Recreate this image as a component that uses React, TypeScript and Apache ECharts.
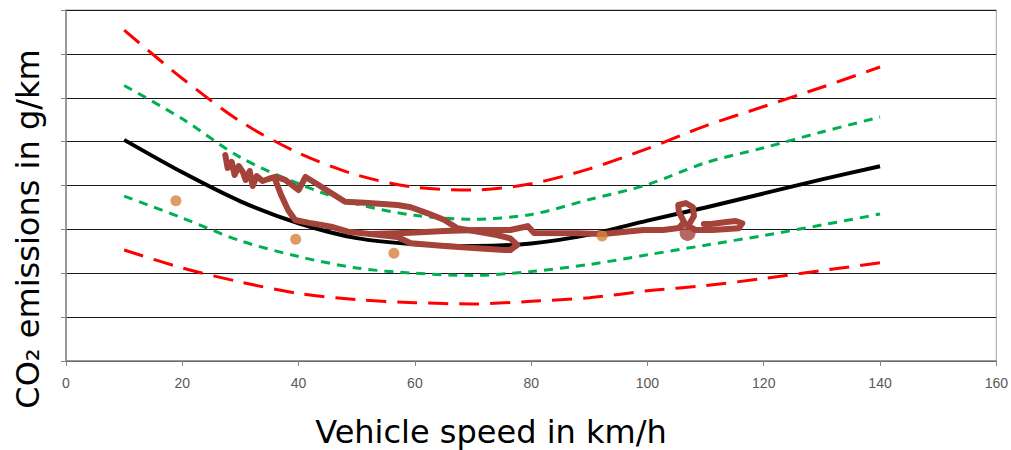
import React, { useEffect, useRef } from "react";
import * as echarts from "echarts";

// Speeds (km/h) for the reference curves
const speeds = [10, 20, 30, 40, 50, 60, 70, 80, 90, 100, 110, 120, 130, 140];
// CO2 emissions (g/km)
const meanCurve = [252, 215, 182, 157, 140, 133, 131, 134, 144, 160, 175, 191, 207, 222];
const redUpper = [377, 322, 273, 237, 212, 198, 195, 202, 219, 242, 268, 290, 312, 335];
const greenUpper = [314, 276, 232, 202, 179, 166, 161.5, 167, 184, 201, 226, 243, 261, 278];
const greenLower = [188, 163, 137, 119, 106, 100, 97.5, 102, 110, 121, 132, 143, 155, 167.5];
const redLower = [126.5, 106, 90, 77, 70, 66.5, 65, 68, 72, 80, 86, 94, 103, 112];

// Orange test points
const testSpeeds = [18.9, 39.5, 56.4, 92.2];
const testCO2 = [182.7, 138.7, 122.7, 142.4];

// Measured trip trace (speed, CO2), three passes
const traceA: [number, number][] = [
  [27.4, 234.8], [27.8, 219.9], [28.5, 226.8], [29.0, 212.0], [29.7, 222.2], [30.4, 215.4],
  [30.9, 206.3], [31.6, 216.5], [32.1, 199.4], [32.8, 210.8], [33.8, 205.1], [34.8, 207.4],
  [36.0, 209.7], [37.7, 206.3], [40.0, 194.9], [41.2, 209.7], [42.9, 202.8], [45.6, 191.5],
  [48.0, 181.5], [51.4, 180.4], [57.0, 177.8], [59.3, 175.2], [62.2, 168.3], [65.1, 160.7],
  [67.3, 151.2], [70.7, 147.4], [74.1, 143.6], [76.4, 139.8], [77.6, 132.2], [76.4, 126.5],
];
const traceB: [number, number][] = [
  [36.0, 206.3], [37.0, 189.2], [38.2, 172.1], [39.4, 160.7], [42.2, 156.9], [45.6, 153.0],
  [48.5, 147.4], [52.4, 144.7], [57.0, 141.3], [59.3, 134.1], [65.1, 131.1], [70.7, 128.4],
  [75.4, 126.5], [76.4, 126.5],
];
const traceC: [number, number][] = [
  [52.4, 144.7], [59.3, 146.2], [65.1, 148.1], [70.7, 149.3], [76.4, 149.3], [78.8, 152.7],
  [79.4, 153.8], [80.5, 145.9], [87.8, 145.5], [92.4, 144.7], [99.3, 149.3], [102.7, 149.3],
  [105.4, 151.6], [106.3, 158.4], [105.4, 169.8], [105.3, 177.8], [106.6, 180.0], [107.8, 175.5],
  [108.0, 165.2], [107.0, 153.8], [108.3, 149.3], [111.2, 149.3], [115.7, 151.2], [116.3, 156.9],
  [115.2, 159.5], [114.0, 158.7], [110.9, 156.1], [109.7, 156.1],
];
const traceBlob: [number, number][] = [[106.9, 146]];

const xTicks = { min: 0, max: 160, interval: 20 };
const yTicks = { min: 0, max: 400, interval: 50 };

const pair = (xs: number[], ys: number[]) => xs.map((x, i) => [x, ys[i]]);

export default function App() {
  const ref = useRef<HTMLDivElement>(null);
  useEffect(() => {
    if (!ref.current) return;
    const chart = echarts.init(ref.current, undefined, { renderer: "svg" });
    const brown = "#A3433A";
    const traceStyle = {
      type: "line" as const,
      symbol: "none",
      lineStyle: { color: brown, width: 6, join: "round", cap: "round" },
      z: 5,
    };
    chart.setOption({
      animation: false,
      backgroundColor: "#ffffff",
      grid: {
        left: 66,
        right: 8,
        top: 10,
        bottom: 89,
        show: true,
        borderColor: "#a6a6a6",
        borderWidth: 1,
      },
      xAxis: {
        type: "value",
        min: xTicks.min,
        max: xTicks.max,
        interval: xTicks.interval,
        axisLine: { show: true, lineStyle: { color: "#868686", width: 1.5 } },
        axisTick: { show: true, length: 5, lineStyle: { color: "#868686" } },
        axisLabel: {
          color: "#595959",
          fontSize: 14,
          fontFamily: "Liberation Sans",
          margin: 15,
        },
        splitLine: { show: false },
      },
      yAxis: {
        type: "value",
        min: yTicks.min,
        max: yTicks.max,
        interval: yTicks.interval,
        axisLine: { show: true, lineStyle: { color: "#868686", width: 1.5 } },
        axisTick: { show: true, length: 5, lineStyle: { color: "#868686" } },
        axisLabel: { show: false },
        splitLine: { show: true, lineStyle: { color: "#1a1a1a", width: 1.2 } },
      },
      graphic: [
        {
          type: "text",
          x: 491,
          y: 432,
          style: {
            text: "Vehicle speed in km/h",
            font: '32px "DejaVu Sans"',
            fill: "#000",
            align: "center",
            verticalAlign: "middle",
          },
        },
        {
          type: "text",
          x: 28,
          y: 229,
          rotation: Math.PI / 2,
          style: {
            text: "CO₂ emissions in g/km",
            font: '32px "DejaVu Sans"',
            fill: "#000",
            align: "center",
            verticalAlign: "middle",
          },
        },
      ],
      series: [
        {
          type: "line",
          data: pair(speeds, redUpper),
          smooth: 0.3,
          symbol: "none",
          lineStyle: { color: "#FF0000", width: 3, type: [20, 11] },
          z: 3,
        },
        {
          type: "line",
          data: pair(speeds, greenUpper),
          smooth: 0.3,
          symbol: "none",
          lineStyle: { color: "#00B050", width: 3, type: [9, 7] },
          z: 3,
        },
        {
          type: "line",
          data: pair(speeds, meanCurve),
          smooth: 0.3,
          symbol: "none",
          lineStyle: { color: "#000000", width: 4 },
          z: 4,
        },
        {
          type: "line",
          data: pair(speeds, greenLower),
          smooth: 0.3,
          symbol: "none",
          lineStyle: { color: "#00B050", width: 3, type: [9, 7] },
          z: 3,
        },
        {
          type: "line",
          data: pair(speeds, redLower),
          smooth: 0.3,
          symbol: "none",
          lineStyle: { color: "#FF0000", width: 3, type: [20, 11] },
          z: 3,
        },
        { ...traceStyle, data: traceA },
        { ...traceStyle, data: traceB },
        { ...traceStyle, data: traceC },
        {
          type: "scatter",
          data: traceBlob,
          symbolSize: 16,
          itemStyle: { color: brown },
          z: 5,
        },
        {
          type: "scatter",
          data: pair(testSpeeds, testCO2),
          symbolSize: 11,
          itemStyle: { color: "#D6833B" },
          z: 6,
        },
      ],
    });
    return () => chart.dispose();
  }, []);
  return (
    <div
      ref={ref}
      style={{ position: "fixed", left: 0, top: 0, width: 1011, height: 450, background: "#fff" }}
    />
  );
}
